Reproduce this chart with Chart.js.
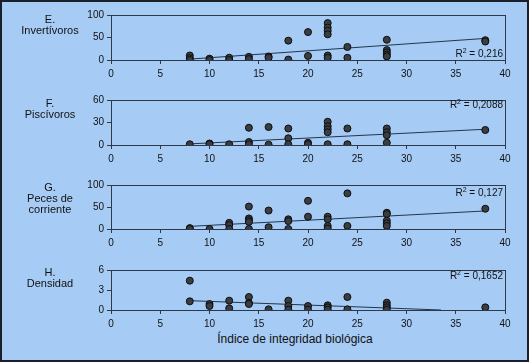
<!DOCTYPE html>
<html>
<head>
<meta charset="utf-8">
<script src="https://cdn.jsdelivr.net/npm/chart.js@4.4.1/dist/chart.umd.min.js"></script>
<style>
  html, body { margin: 0; padding: 0; }
  #wrap {
    position: relative; width: 529px; height: 362px; box-sizing: border-box;
    border: 2px solid #1b1f2a; background: #a6cbf5; overflow: hidden;
    font-family: "Liberation Sans", Arial, sans-serif; color: #111;
  }
  canvas { position: absolute; left: -2px; }
  .lbl { position: absolute; left: 0; width: 96px; text-align: center; font-size: 11px; line-height: 11px; }
  .r2 { position: absolute; font-size: 10px; right: 24px; }
  .xt { position: absolute; left: 0; width: 586px; text-align: center; top: 330px; font-size: 12px; }
</style>
</head>
<body>
<div id="wrap">
  <canvas id="cE" width="529" height="74" style="top:4px"></canvas>
  <canvas id="cF" width="529" height="74" style="top:89px"></canvas>
  <canvas id="cG" width="529" height="73" style="top:174px"></canvas>
  <canvas id="cH" width="529" height="69" style="top:259px"></canvas>

  <div class="lbl" style="top:12px">E.<br>Invertívoros</div>
  <div class="lbl" style="top:96px">F.<br>Piscívoros</div>
  <div class="lbl" style="top:180px">G.<br>Peces de<br>corriente</div>
  <div class="lbl" style="top:265px">H.<br>Densidad</div>

  <div class="r2" style="top:45px">R<sup style="font-size:7px">2</sup> = 0,216</div>
  <div class="r2" style="top:96px">R<sup style="font-size:7px">2</sup> = 0,2088</div>
  <div class="r2" style="top:184px">R<sup style="font-size:7px">2</sup> = 0,127</div>
  <div class="r2" style="top:267px">R<sup style="font-size:7px">2</sup> = 0,1652</div>

  <div class="xt">Índice de integridad biológica</div>
</div>
<script>
// E. Invertívoros
const xE = [8,8,8, 10,10, 12,12, 14,14, 16,16, 18,18, 20,20, 22,22,22,22,22,22, 24,24, 28,28,28,28,28, 38,38];
const yE = [10,4,0, 3,0, 5,0, 7,2, 8,5, 43,1, 62,9, 82,72,65,57,10,5, 29,5, 45,22,17,12,8, 44,41];
const trendE = [[8, 2], [38, 48]];

// F. Piscívoros
const xF = [8, 10,10, 12, 14,14,14, 16,16, 18,18,18, 20,20, 22,22,22,22,22, 24,24, 28,28,28,28, 38];
const yF = [1, 2,1, 1, 23,4,1, 24,0.5, 22,9,1, 3,1, 31,25,21,17,1, 22,1, 22,17,13,3, 20];
const trendF = [[8, 1.5], [38, 21]];

// G. Peces de corriente
const xG = [8,8, 10, 12,12,12, 14,14,14,14,14, 16,16, 18,18,18, 20,20, 22,22,22,22, 24,24, 28,28,28,28,28, 38];
const yG = [2,0, 0, 14,9,0, 51,24,20,16,0, 42,4, 22,18,0, 64,28, 28,22,7,1, 81,7, 37,34,19,13,7, 46];
const trendG = [[8, 6], [38, 41]];

// H. Densidad
const xH = [8,8, 10,10, 12,12, 14,14,14, 16, 18,18,18, 20,20, 22,22,22, 24,24, 28,28,28,28, 38];
const yH = [4.4,1.3, 0.9,0.6, 1.4,0.25, 1.95,1.07,0.9, 0.1, 1.4,0.6,0.05, 0.6,0.05, 0.7,0.4,0.05, 1.95,0.1, 1.1,0.7,0.4,0.05, 0.4];
const trendH = [[8, 1.4], [33.5, 0]];

const xTicks = [0, 5, 10, 15, 20, 25, 30, 35, 40];

const AXIS = '#2e3848';
const FONT = { family: "'Liberation Sans', Arial, sans-serif", size: 10 };

const framePlugin = {
  id: 'frame',
  afterDraw(chart) {
    const a = chart.chartArea, ctx = chart.ctx;
    ctx.save();
    ctx.strokeStyle = AXIS;
    ctx.lineWidth = 1;
    ctx.strokeRect(Math.round(a.left) + 0.5, Math.round(a.top) + 0.5,
                   Math.round(a.right - a.left), Math.round(a.bottom - a.top));
    ctx.restore();
  }
};

function makePanel(id, xs, ys, trend, yMax, yStep) {
  const pts = xs.map((x, i) => ({ x, y: ys[i] }));
  new Chart(document.getElementById(id), {
    type: 'scatter',
    data: {
      datasets: [
        {
          data: pts,
          pointRadius: 3.5,
          pointBackgroundColor: '#3a3d42',
          pointBorderColor: '#0d0d0d',
          pointBorderWidth: 1
        },
        {
          type: 'line',
          data: trend.map(p => ({ x: p[0], y: p[1] })),
          borderColor: '#203650',
          borderWidth: 1,
          pointRadius: 0,
          fill: false
        }
      ]
    },
    options: {
      responsive: false,
      animation: false,
      devicePixelRatio: 1,
      layout: { padding: { left: 0, right: 24, top: 8, bottom: 0 } },
      plugins: { legend: { display: false }, tooltip: { enabled: false } },
      scales: {
        x: {
          type: 'linear', min: 0, max: 40,
          afterBuildTicks: s => { s.ticks = xTicks.map(v => ({ value: v })); },
          afterFit: s => { s.height = 20; },
          ticks: { color: '#111', font: FONT, padding: 4, maxRotation: 0 },
          grid: { drawOnChartArea: false, color: AXIS, tickLength: 4 },
          border: { color: AXIS }
        },
        y: {
          min: 0, max: yMax,
          afterFit: s => { s.width = 111; },
          ticks: { stepSize: yStep, color: '#111', font: FONT, padding: 3 },
          grid: { drawOnChartArea: false, color: AXIS, tickLength: 4 },
          border: { color: AXIS }
        }
      }
    },
    plugins: [framePlugin]
  });
}

makePanel('cE', xE, yE, trendE, 100, 50);
makePanel('cF', xF, yF, trendF, 60, 30);
makePanel('cG', xG, yG, trendG, 100, 50);
makePanel('cH', xH, yH, trendH, 6, 3);
</script>
</body>
</html>
